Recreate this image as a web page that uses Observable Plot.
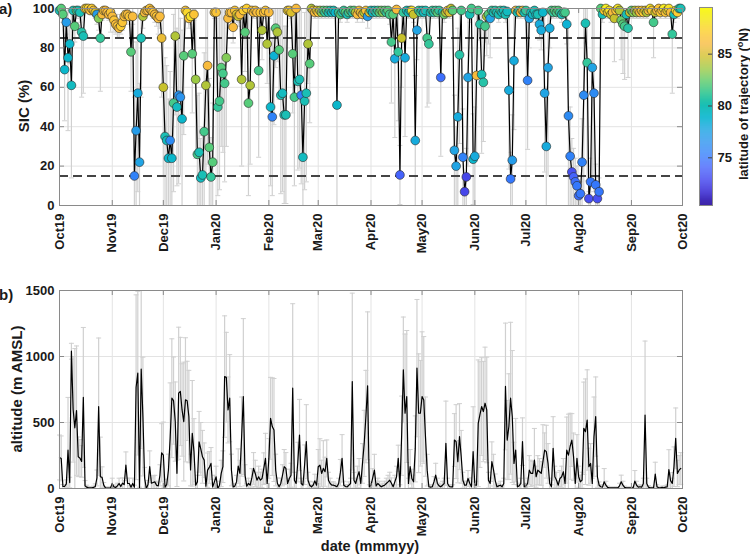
<!DOCTYPE html>
<html><head><meta charset="utf-8">
<script src="https://cdn.jsdelivr.net/npm/d3@7"></script>
<script src="https://cdn.jsdelivr.net/npm/@observablehq/plot@0.6"></script>
<style>
body{margin:0;background:#fff;}
#wrap{position:relative;width:750px;height:555px;overflow:hidden;font-family:"Liberation Sans",Arial,sans-serif;font-weight:bold;color:#1a1a1a;background:#fff;}
.lab{position:absolute;font-weight:bold;white-space:nowrap;line-height:1;}
.rot{transform:translate(-50%,-50%) rotate(-90deg);}
.ctr{transform:translate(-50%,-50%);}
sup{font-size:0.7em;}
</style></head><body><div id="wrap"></div>
<script>
// ---- data ----
const START = "2019-10-01";   // first daily value
const END = "2020-10-01";
const MONTH_TICKS = ["2019-10-01","2019-11-01","2019-12-01","2020-01-01","2020-02-01","2020-03-01","2020-04-01","2020-05-01","2020-06-01","2020-07-01","2020-08-01","2020-09-01","2020-10-01"];
const SIC_TICKS = [0,20,40,60,80,100];
const SIC_LEVELS = [15,85];
const ALT_TICKS = [0,500,1000,1500];
const LAT_TICKS = [75,80,85];
const LAT_RANGE = [70.4,89.5];
const PARULA = ["#3e26a8","#4537d5","#484cf0","#4563fc","#327cfc","#2b91ef","#20a5e3","#08b5d0","#19bfb6","#37c897","#63cd6f","#9dc943","#d1bf27","#f8ba3d","#fccf30","#f5e924","#f9fb15"];

// daily sea-ice concentration along trajectory (%)
const SIC = [
99,100,97,69,93,75,82,61,99,91,
99,99,98,88,86,100,100,100,99,100,
99,98,97,95,85,97,99,99,98,97,
98,96,94,92,91,90,91,93,96,97,
97,96,78,96,15,38,57,22,85,96,
98,99,99,100,99,98,97,96,95,96,
85,60,35,33,24,33,24,52,86,50,
56,55,44,76,99,98,95,96,77,97,
64,26,27,14,15.5,37.5,61,71,29.5,14.5,
22,98,98,50,53,70,67,62,75,95,
98,98,90.5,99,97,96,97,64,99,88,
100,52,61,99,98,99,98,68.5,98,89,
98,99,82,98,50,45,76,90,88,79,
56,57,46,46,99,99,98,77,55,100,
63,64,56,24.5,53,57,82,72,100,99,
98,99,98,99,98,99,98,99,98,99,
98,99,98,51,98,97,98,99,98,97,
98,99,98,99,98,97,99,98,97,98,
99,96,98,99,98,99,98,99,98,99,
98,99,98,99,97,83,97,74.5,99.5,78,
15.5,85,98,75,99,98,99,99,97,33,
89,99,98,99,98,99,85,82,98,99,
98,99,98,99,65,98,97,98,99,98,
100,99,28,20,45,76.5,99,24.5,7,14.5,
65,97,100,23.5,25,66,99,92,66.5,62.5,
91,96,97,95,99,98,99,98,97,99,
98,99,97,98.5,58.5,13.5,23,73.5,99,98,
99,98,99,98,99,63.5,95,98,97,99,
97,97,92,89,98,57,30,70,90,99,
98,99,98,99,98,97,98,98,92,45.5,
25,17,14.5,12,10,5,6,22,56,92.5,
72.5,3.5,12,70,57,10.5,3.5,7,100,97,
99,100,98,99,97,98,95,99,100,99,
94,92,91,97,90,98,99,98,99,98,
99,98,99,98,99,98,99,100,99,93,
98,99,100,98,99,100,98,99,100,98,
87,97,99,98,100,100];

// SIC spread (%)
const SIC_ERR = [
2,2,4,26,6,37,10,47,3,8,
4,3,5,33,29,1,1,1,2,1,
2,3,5,6,27,3,2,2,3,3,
10,4,6,5,6,5,4,4,3,3,
3,4,20,4,40,45,50,40,30,6,
3,2,2,1,2,3,4,5,8,6,
30,45,40,38,30,35,30,45,40,40,
45,40,45,40,2,3,5,4,30,3,
40,30,30,20,20,40,45,50,35,20,
30,3,3,45,45,40,40,50,45,5,
3,3,8,2,4,5,4,44,2,20,
1,47,40,2,3,2,3,44,3,15,
3,2,20,3,40,40,35,20,15,25,
50,50,45,45,2,2,3,30,45,1,
45,45,45,30,45,45,20,30,1,2,
3,2,3,2,3,2,3,2,3,2,
3,2,3,51,3,4,3,2,3,4,
3,2,3,2,3,4,2,3,4,3,
2,6,3,2,3,2,3,2,3,2,
3,2,3,2,5,31,5,40,1,35,
15,25,3,40,2,3,2,2,4,33,
15,2,3,2,3,2,35,30,3,2,
3,2,3,2,40,3,4,3,2,3,
1,2,28,20,45,45,2,24.5,7,14.5,
45,4,1,23,25,40,2,8,40,30,
8,20,15,20,2,3,2,3,4,2,
3,2,4,3,40,13.5,23,35,2,3,
2,3,2,3,2,35,15,3,4,2,
4,4,8,10,3,40,30,55,10,2,
3,2,3,2,3,4,3,3,10,45.5,
25,17,14.5,12,10,5,6,22,50,10,
60,3.5,12,55,50,10.5,3.5,7,1,4,
2,1,3,2,4,3,22,2,1,2,
20,25,27,5,25,3,2,3,2,3,
2,3,2,3,2,3,2,1,2,18,
3,2,1,3,2,1,3,2,1,3,
30,4,2,3,1,1];

// latitude of trajectory (°N)
const LAT = [
80,82,82,79,77,79,79,79.5,80,82,
82,80,80,80.5,80,86,88,87,86,87,
86.5,85,77,83,81,86,86.5,86,86,86,
86.5,86,86.5,86,86.5,86,87,86.5,86,86.5,
86,86.5,82,86,75.5,77,78,77.5,80,84,
86,86.5,86,86.5,86,86.5,86,86.5,86,86,
85.5,84.5,80,79.5,79,76,79,81.5,84,79.5,
76.5,76.5,79,82,86.5,87.5,86.5,88,82,86.5,
83.5,81.5,80,79.5,80,81.5,84,86,82,81,
82,86.5,86.5,81,81.5,82,81.5,81.5,83,86,
86.5,86,86,86.5,85,84.5,86,84,87,82,
87,82,84,86.5,86,86.5,86,81.5,86.5,84,
86,86.5,84,86,79,75.5,78.5,82,84,82,
80,79.5,80,80,85,87,85,82,81.5,86,
80,80,75.5,79.5,80,80,84,82,84,85.5,
86,85,86.5,84,83,82,81,82,80,80.5,
79.5,80,79,79,81,82,80.5,81,82,80,
81.5,82,80.5,82,84,86,86.5,85.5,86,84,
86.5,77,85,80,79.5,80,80.5,81,82,82.5,
83,82,81,82,81.5,81.5,82,78,86,81,
74,84.5,81,78,80,79.5,80,88,84.5,78,
77.5,81,81.5,80,79.5,80,81.5,81,80,81,
80.5,81,82,81,74.5,80,82.5,84,86,85,
84.5,82,77.5,77.5,78,80.5,81.5,75.5,72.5,72.5,
77.5,80,81.5,79,78,86,81.5,80.5,80,80.5,
81.5,84,82,77.5,81,80,80.5,80,80,81,
79.5,80,80,79.5,78,75,77,78,86,80,
80.5,86,85.5,80,81,75.5,77.5,80,79.5,80,
79.5,80,78,78,79,77.5,78,77.5,78,81.5,
81,82,81.5,82,81,80,81,81.5,78.5,76,
75.5,73,74,74.5,75,74.5,75,75.5,76,80,
81,73,75,77.5,76,75,73,75,82,80,
87,88.5,85,88,84.5,86,84.5,86.5,88,84,
82.5,82,81.5,80,80.5,84.5,82,83,84,83.5,
85.5,86,86.5,87,85,84,86,88,87,81.5,
84.5,86,86.5,87,86,88.5,86.5,85,88,86,
81,80,88,87,80.5,80];

// altitude (m AMSL)
const ALT = [
235,228,15,15,35,290,45,1040,600,460,
590,240,230,205,690,20,10,5,5,5,
8,15,80,620,89,84,25,5,3,3,
5,38,12,8,20,38,15,40,30,177,
38,38,10,38,10,767,874,0,904,545,
80,0,30,165,40,45,50,25,20,100,
271,253,10,30,140,380,684,666,507,115,
722,735,595,507,672,664,545,140,418,279,
25,50,354,300,240,215,18,139,160,190,
12,50,89,0,25,114,165,848,843,595,
684,140,12,18,50,170,114,393,697,100,
18,38,25,80,152,114,63,89,63,76,
150,228,38,228,532,469,443,140,40,13,
38,100,165,152,38,76,101,760,63,38,
200,405,38,25,180,355,63,25,13,25,
58,25,165,177,114,152,127,228,63,38,
25,25,20,13,38,120,228,25,15,13,
25,38,810,63,38,89,127,38,190,342,
545,778,13,25,80,139,20,38,25,13,
20,25,38,50,63,40,13,50,89,228,
13,400,899,570,697,38,165,76,51,300,
912,570,570,697,671,393,139,13,10,13,
50,101,38,20,13,25,38,342,38,15,
13,13,367,355,203,393,240,63,25,25,
76,40,13,279,25,25,494,560,621,583,
646,595,63,38,203,139,60,13,20,25,
13,38,773,367,469,684,545,190,291,13,
20,38,355,13,20,38,139,114,114,215,
89,139,127,114,203,291,279,190,38,13,
304,89,63,25,76,89,127,38,291,253,
320,367,240,38,228,89,51,63,456,430,
519,165,190,38,393,545,89,25,13,10,
51,25,8,5,5,5,5,5,5,20,
51,25,8,5,5,5,5,5,56,25,
10,13,10,38,557,38,10,5,5,5,
109,13,5,5,8,5,10,12,144,60,
38,165,380,114,139,152];

// altitude spread (m)
const ALT_ERR = [
170,170,15,15,30,400,40,60,400,600,
490,150,140,120,530,40,15,10,10,10,
10,20,60,520,300,80,20,8,5,5,
8,40,15,10,20,40,15,40,30,100,
40,40,15,40,15,700,620,10,600,450,
80,10,30,120,40,50,50,30,25,80,
220,250,15,40,120,420,450,330,300,100,
500,410,350,450,470,300,350,120,400,250,
30,50,230,200,200,130,20,130,120,120,
15,50,80,5,30,100,120,460,340,250,
330,120,15,20,50,130,100,300,590,80,
20,40,30,70,120,100,60,80,60,70,
120,190,40,150,310,370,390,120,40,15,
40,80,130,120,40,70,90,640,60,40,
150,270,40,30,150,280,60,30,15,25,
50,30,130,200,100,210,110,140,60,40,
25,25,20,15,40,100,180,30,15,15,
25,40,670,60,40,80,100,40,150,250,
350,560,15,25,70,120,20,40,30,15,
20,30,40,50,60,40,15,50,80,100,
15,300,400,600,500,40,130,70,50,250,
520,450,400,490,480,300,120,15,10,15,
40,90,40,20,15,30,40,320,40,15,
15,15,200,280,160,250,200,60,30,30,
60,40,15,340,30,30,480,400,370,380,
425,400,60,40,150,120,50,15,20,30,
15,40,480,300,400,575,500,160,240,15,
20,40,180,15,20,40,110,100,90,240,
80,110,100,90,280,130,200,150,40,15,
240,80,60,30,60,80,100,40,250,310,
250,200,180,40,180,80,50,60,350,400,
380,140,150,40,300,300,80,25,15,15,
100,30,10,5,5,5,5,5,5,20,
50,30,10,5,5,5,5,5,80,30,
15,15,12,40,560,40,12,5,5,5,
90,15,5,5,10,5,10,15,150,60,
40,150,230,100,110,120];

// ---- build ----
const t0 = new Date(START), t1 = new Date(END);
const months = MONTH_TICKS.map(s => new Date(s));
const N = Math.min(SIC.length, LAT.length, SIC_ERR.length);
const sicRows = d3.range(N).map(i => ({
  date: d3.utcDay.offset(t0, i), sic: SIC[i], lat: LAT[i],
  lo: Math.max(0, SIC[i] - SIC_ERR[i]), hi: Math.min(100, SIC[i] + SIC_ERR[i])
}));
const M = Math.min(ALT.length, ALT_ERR.length);
const altRows = d3.range(M).map(i => ({
  date: d3.utcDay.offset(t0, i), alt: ALT[i],
  lo: Math.max(0, ALT[i] - ALT_ERR[i]), hi: Math.min(1500, ALT[i] + ALT_ERR[i])
}));

const parula = d3.piecewise(d3.interpolateRgb, PARULA);
const colorOpts = {type: "linear", domain: LAT_RANGE, interpolate: parula};
const hline = {draw(ctx, size) { const w = Math.sqrt(size / Math.PI); ctx.moveTo(-w, 0); ctx.lineTo(w, 0); }};

const FONT = {fontFamily: "'Liberation Sans', Arial, sans-serif", fontSize: "13px", fontWeight: "bold", color: "#1a1a1a", background: "transparent", overflow: "visible"};
const W = 690, ML = 59, MR = 8, PW = W - ML - MR;
const AXC = "#8a8a8a", GRID = "#e3e3e3", ERRC = "#d0d0d0";

function panel({rows, yKey, yDomain, yTicks, height, marginBottom, extra, dots}) {
  const PH = height - 8 - marginBottom;
  return Plot.plot({
    width: W, height, marginLeft: ML, marginRight: MR, marginTop: 8, marginBottom,
    style: FONT,
    x: {type: "utc", domain: [t0, t1], ticks: months, tickFormat: d3.utcFormat("%b%y"), tickRotate: -90, tickSize: 0, tickPadding: 8, label: null},
    y: {domain: yDomain, ticks: yTicks, tickFormat: d3.format("d"), tickSize: 0, tickPadding: 5, label: null},
    color: colorOpts,
    marks: [
      Plot.ruleX(months, {stroke: GRID}),
      Plot.ruleY(yTicks, {stroke: GRID}),
      Plot.ruleX(rows, {x: "date", y1: "lo", y2: "hi", stroke: ERRC, strokeWidth: 1.2}),
      Plot.dot(rows, {x: "date", y: "lo", symbol: hline, r: 2.5, fill: "none", stroke: ERRC, strokeWidth: 1}),
      Plot.dot(rows, {x: "date", y: "hi", symbol: hline, r: 2.5, fill: "none", stroke: ERRC, strokeWidth: 1}),
      ...extra,
      Plot.line(rows, {x: "date", y: yKey, stroke: "#000", strokeWidth: 1.2}),
      ...dots,
      Plot.ruleY(yTicks, {insetRight: PW - 5, stroke: AXC}),
      Plot.ruleY(yTicks, {insetLeft: PW - 5, stroke: AXC}),
      Plot.ruleX(months, {insetTop: PH - 5, stroke: AXC}),
      Plot.ruleX(months, {insetBottom: PH - 5, stroke: AXC}),
      Plot.frame({stroke: AXC})
    ]
  });
}

const pA = panel({
  rows: sicRows, yKey: "sic", yDomain: [0, 100], yTicks: SIC_TICKS, height: 255, marginBottom: 50,
  extra: [Plot.ruleY(SIC_LEVELS, {stroke: "#444", strokeWidth: 2, strokeDasharray: "9,5"})],
  dots: [Plot.dot(sicRows, {x: "date", y: "sic", fill: "lat", r: 4.4, stroke: "#2a2a2a", strokeWidth: 0.6})]
});
const pB = panel({
  rows: altRows, yKey: "alt", yDomain: [0, 1500], yTicks: ALT_TICKS, height: 273, marginBottom: 67,
  extra: [], dots: []
});

// colour bar
const step = (LAT_RANGE[1] - LAT_RANGE[0]) / 200;
const ramp = d3.range(200).map(i => LAT_RANGE[0] + i * step);
const pC = Plot.plot({
  width: 60, height: 215, marginLeft: 9, marginRight: 38, marginTop: 7, marginBottom: 10,
  style: FONT,
  x: {domain: [0, 1], axis: null},
  y: {domain: LAT_RANGE, axis: "right", ticks: LAT_TICKS, tickSize: 0, tickPadding: 5, label: null},
  color: colorOpts,
  marks: [
    Plot.rect(ramp, {x1: 0, x2: 1, y1: d => d, y2: d => d + step * 1.05, fill: d => d}),
    Plot.ruleY(LAT_TICKS, {insetLeft: 9, stroke: "#444"}),
    Plot.frame({stroke: AXC})
  ]
});

const wrap = document.getElementById("wrap");
function place(el, left, top) { el.style.position = "absolute"; el.style.left = left + "px"; el.style.top = top + "px"; wrap.appendChild(el); }
place(pA, 0, 0);
place(pB, 0, 282);
place(pC, 690, 0);

function label(html, x, y, size, cls) {
  const d = document.createElement("div");
  d.className = "lab " + (cls || "");
  d.innerHTML = html;
  d.style.left = x + "px"; d.style.top = y + "px"; d.style.fontSize = size + "px";
  wrap.appendChild(d);
}
label("a)", -1, 1, 15);
label("b)", -1, 287, 15);
label("SIC (%)", 23, 106, 15, "rot");
label("altitude (m AMSL)", 16, 389, 15, "rot");
label("date (mmmyy)", 370, 546, 14.5, "ctr");
label("latitude of trajectory (<sup>o</sup>N)", 743, 104, 13, "rot");
</script></body></html>
